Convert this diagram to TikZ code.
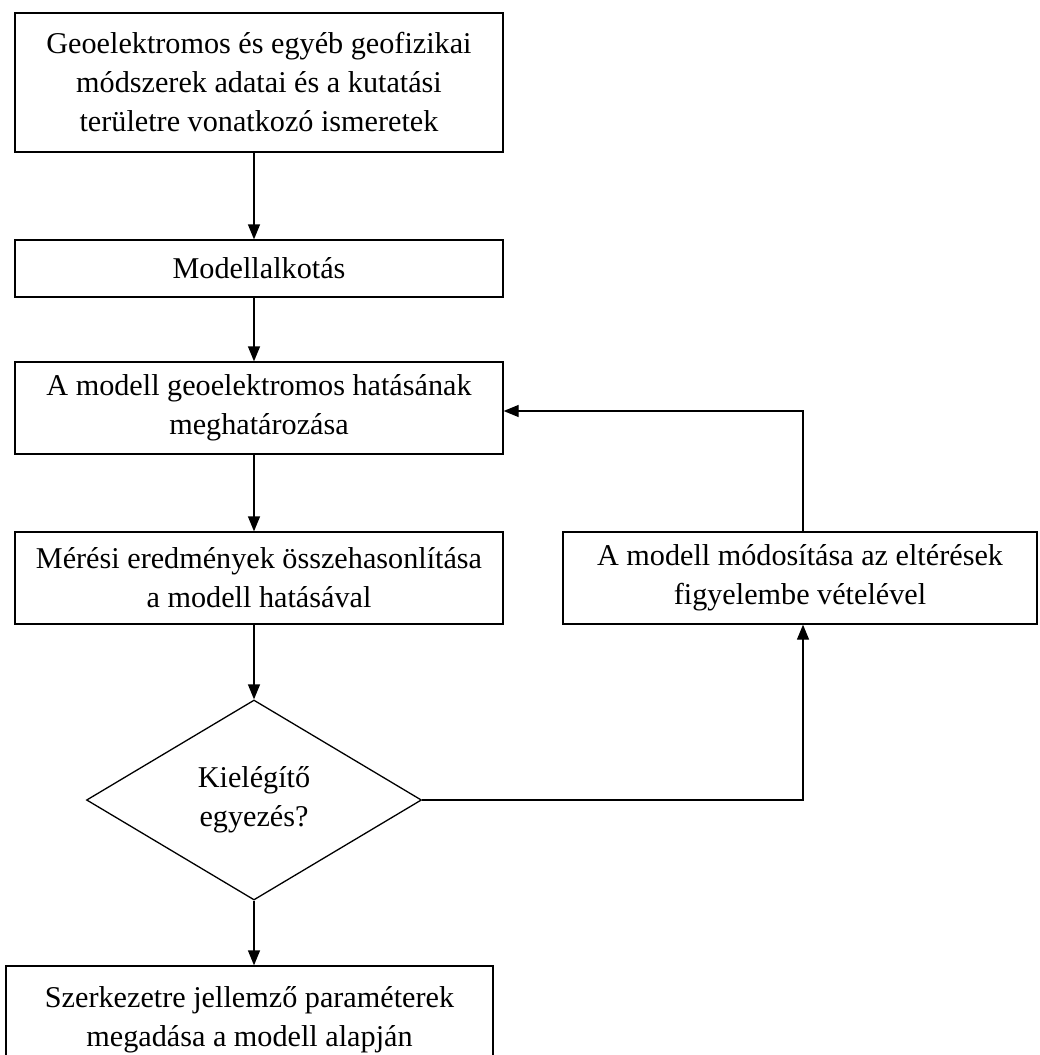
\documentclass[tikz,border=0pt]{standalone}
\usepackage{fontspec}
\setmainfont{Liberation Serif}
\usetikzlibrary{arrows.meta,shapes.geometric}
\begin{document}
\begin{tikzpicture}[x=1pt,y=-1pt,
  box/.style={draw, line width=1.3pt, inner sep=0pt, align=center,
    font=\fontsize{30.2}{39}\selectfont},
  conn/.style={line width=1.3pt, -{Triangle[length=15pt,width=12pt]}}]
\useasboundingbox (0,0) rectangle (1040,1055);
\node[box, minimum width=488pt, minimum height=139pt] (b1) at (259,82.5)
  {Geoelektromos és egyéb geofizikai\\ módszerek adatai és a kutatási\\ területre vonatkozó ismeretek};
\node[box, minimum width=488pt, minimum height=57pt] (b2) at (259,268.5) {Modellalkotás};
\node[box, minimum width=488pt, minimum height=92pt] (b3) at (259,408)
  {A modell geoelektromos hatásának\\ meghatározása};
\node[box, minimum width=488pt, minimum height=92pt] (b4) at (259,578)
  {Mérési eredmények összehasonlítása\\ a modell hatásával};
\node[box, minimum width=474pt, minimum height=92pt] (r) at (800,578)
  {A modell módosítása az eltérések\\ figyelembe vételével};
\node[box, diamond, minimum width=335pt, minimum height=200pt] (d) at (254,800)
  {Kielégítő\\ egyezés?};
\node[box, minimum width=487pt, minimum height=108pt] (b5) at (249.5,1020)
  {Szerkezetre jellemző paraméterek\\ megadása a modell alapján};
\coordinate (turnA) at (803,800);
\coordinate (turnB) at (803,411);
\draw[conn] (b1.south -| d.north) -- (b2.north -| d.north);
\draw[conn] (b2.south -| d.north) -- (b3.north -| d.north);
\draw[conn] (b3.south -| d.north) -- (b4.north -| d.north);
\draw[conn] (b4.south -| d.north) -- (d.north);
\draw[conn] (d.south) -- (b5.north -| d.north);
\draw[conn] (d.east) -- (turnA) -- (r.south -| turnA);
\draw[conn] (r.north -| turnB) -- (turnB) -- (turnB -| b3.east);
\end{tikzpicture}
\end{document}
